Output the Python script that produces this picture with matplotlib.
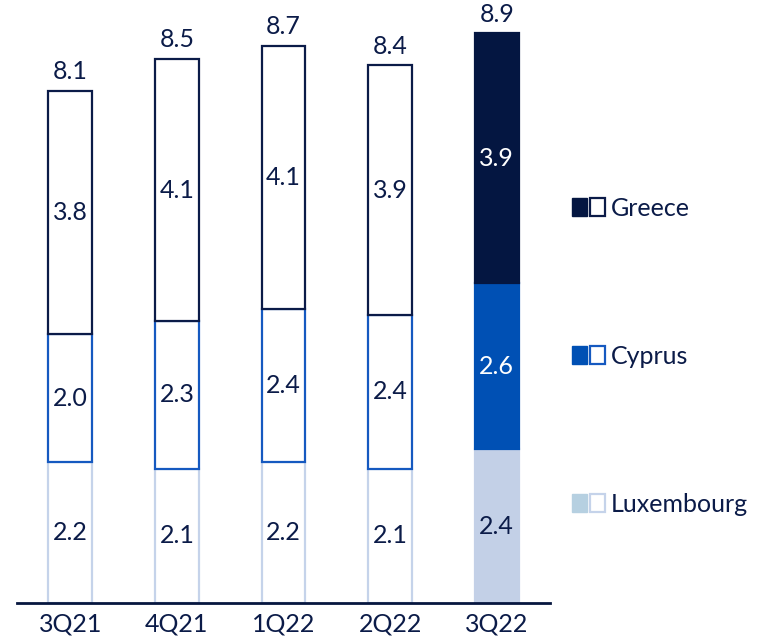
import matplotlib
matplotlib.use("Agg")
import matplotlib.pyplot as plt
from matplotlib.patches import Rectangle
from matplotlib.legend_handler import HandlerTuple

plt.rcParams['font.family'] = ['Lato', 'DejaVu Sans']

# quarterly breakdown by country
quarters = ['3Q21', '4Q21', '1Q22', '2Q22', '3Q22']
luxembourg = [2.2, 2.1, 2.2, 2.1, 2.4]
cyprus = [2.0, 2.3, 2.4, 2.4, 2.6]
greece = [3.8, 4.1, 4.1, 3.9, 3.9]
totals = [8.1, 8.5, 8.7, 8.4, 8.9]

navy = '#06163f'
text_col = '#0b1b48'
fill_cols = {'Greece': '#041641', 'Cyprus': '#0050b4', 'Luxembourg': '#c3d0e7'}
edge_cols = {'Greece': '#0b1b48', 'Cyprus': '#1559c0', 'Luxembourg': '#c5d3ea'}
legend_lux = '#b6d0e1'
fs = 18

fig = plt.figure(figsize=(7.69, 6.41), dpi=100)
ax = fig.add_axes([17 / 769, 38 / 641, 533 / 769, 603 / 641])

x = list(range(len(quarters)))
width = 0.41
last = len(quarters) - 1

for i in x:
    bottom = 0.0
    for name, vals in [('Luxembourg', luxembourg), ('Cyprus', cyprus), ('Greece', greece)]:
        v = vals[i]
        filled = (i == last)
        fc = fill_cols[name] if filled else 'white'
        ec = fill_cols[name] if filled else edge_cols[name]
        ax.bar(i, v, width, bottom=bottom, facecolor=fc, edgecolor=ec,
               linewidth=1.6, zorder=2)
        lab_col = 'white' if (filled and name != 'Luxembourg') else text_col
        ax.text(i, bottom + v / 2, f'{v:.1f}', ha='center', va='center',
                fontsize=fs, color=lab_col, zorder=3)
        bottom += v
    ax.text(i, bottom + 0.12, f'{totals[i]:.1f}', ha='center', va='bottom',
            fontsize=fs, color=text_col)

ax.set_xlim(-0.5, 4.5)
ax.set_ylim(0, 9.42)
ax.set_xticks(x)
ax.set_xticklabels(quarters, fontsize=fs, color=text_col)
ax.tick_params(axis='x', length=0, pad=7)
ax.set_yticks([])
for s in ['top', 'right', 'left']:
    ax.spines[s].set_visible(False)
ax.spines['bottom'].set_color(navy)
ax.spines['bottom'].set_linewidth(2)
ax.spines['bottom'].set_zorder(4)

# legend: solid square for 3Q22, hollow square for earlier quarters
handles = []
for name in ['Greece', 'Cyprus', 'Luxembourg']:
    solid = legend_lux if name == 'Luxembourg' else fill_cols[name]
    full = Rectangle((0, 0), 1, 1, facecolor=solid, edgecolor=solid)
    hollow = Rectangle((0, 0), 1, 1, facecolor='white', edgecolor=edge_cols[name], linewidth=1.6)
    handles.append((full, hollow))

leg = fig.legend(handles, ['Greece', 'Cyprus', 'Luxembourg'],
                 handler_map={tuple: HandlerTuple(ndivide=None, pad=0.12)},
                 loc='center left', bbox_to_anchor=(572 / 769, (641 - 356) / 641),
                 frameon=False, fontsize=fs, handlelength=1.3, handleheight=0.7,
                 handletextpad=0.25, labelspacing=5.0, borderpad=0, borderaxespad=0)
for t in leg.get_texts():
    t.set_color(text_col)

fig.savefig('out.png', dpi=100)
